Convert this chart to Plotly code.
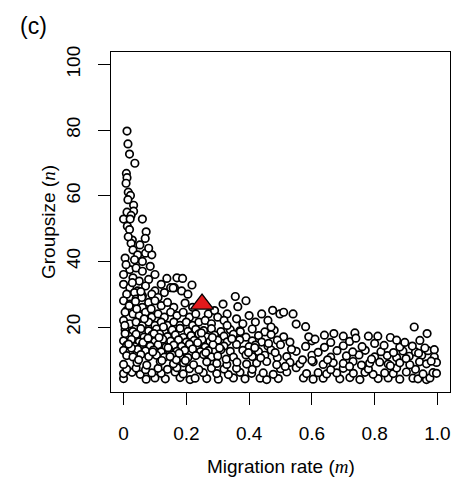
import plotly.graph_objects as go

# ---- data ----
tail_m = [0.011,0.014,0.019,0.036,0.009,0.011,0.008,0.015,0.022,0.014,0.032,0.032,0.011,0.024,0.000,0.021,0.060,0.012,0.019,0.072,0.069,0.028,0.024,0.052,0.030,0.070,0.045,0.090,0.005,0.035,0.060,0.015,0.080]
tail_n = [79.7,75.8,72.7,69.9,66.8,65.5,63.8,61.1,60.1,58.8,57.1,55.3,55.0,54.0,52.9,52.9,52.9,50.7,49.7,49.0,47.0,46.5,45.5,45.0,43.5,42.5,42.0,42.0,41.0,40.5,40.0,47.5,44.0]

upper_m = [0.000,0.020,0.040,0.060,0.085,0.100,0.030,0.050,0.080,0.138,0.170,0.188,0.000,0.020,0.045,0.070,0.100,0.120,0.150,0.162,0.218,0.010,0.035,0.060,0.090,0.110,0.130,0.185,0.205,0.158]
upper_n = [36.0,37.5,38.0,37.0,38.5,36.0,35.0,34.0,34.5,34.8,35.0,34.8,33.0,32.0,31.0,32.5,31.0,33.0,32.0,32.0,32.8,30.0,30.5,29.5,30.0,29.0,30.5,31.0,30.0,31.9]

mid_m = [0.000,0.020,0.040,0.060,0.080,0.100,0.120,0.140,0.160,0.196,0.220,0.317,0.356,0.390,0.364,
         0.010,0.030,0.050,0.070,0.090,0.110,0.130,0.150,0.170,0.190,0.210,0.230,0.270,0.290,0.330,0.400,0.440,0.475,0.498,0.540,0.510,
         0.000,0.020,0.040,0.060,0.080,0.100,0.120,0.140,0.160,0.180,0.200,0.220,0.240,0.260,0.280,0.300,0.320,0.360,0.380,0.420,0.460,0.550,0.580,0.926]
mid_n = [28.0,27.0,28.5,26.0,27.5,28.0,26.5,27.5,26.0,27.3,26.0,27.0,29.3,28.0,26.2,
         25.0,24.0,23.5,24.5,23.0,24.0,23.0,24.5,23.5,24.5,23.0,24.0,24.0,25.0,24.0,23.5,24.0,25.1,24.0,24.0,24.5,
         22.0,21.0,21.5,20.5,21.5,20.5,21.5,20.5,21.5,20.5,21.5,20.5,21.5,22.0,21.0,23.0,22.0,22.5,21.0,21.5,22.0,20.9,20.1,20.0]

row19_m = [0.005,0.03,0.055,0.08,0.105,0.13,0.155,0.18,0.205,0.23,0.255,0.28,0.31,0.34,0.37,0.41,0.45,0.48]
row19_n = [19.2,18.6,19.5,18.8,19.4,18.5,19.1,19.6,18.7,19.3,18.9,19.5,18.6,19.2,18.8,19.4,18.5,19.0]
row17_m = [0.015,0.04,0.065,0.09,0.115,0.14,0.165,0.19,0.215,0.24,0.265,0.29,0.32,0.35,0.39,0.43,0.47,0.51]
row17_n = [17.3,17.8,16.9,17.5,17.9,17.1,17.6,16.8,17.4,17.9,17.0,17.5,17.2,17.8,16.9,17.4,17.7,17.0]
row16_m = [0.0,0.025,0.05,0.075,0.1,0.125,0.15,0.175,0.2,0.225,0.25,0.275,0.3,0.33,0.37,0.41,0.44,0.49]
row16_n = [15.8,16.2,15.5,16.0,15.6,16.3,15.7,16.1,15.4,15.9,16.2,15.6,16.0,15.5,16.1,15.8,15.4,16.0]
row14_m = [0.01,0.035,0.06,0.085,0.11,0.135,0.16,0.185,0.21,0.235,0.26,0.285,0.32,0.36,0.40,0.42,0.46,0.50]
row14_n = [14.4,14.0,14.7,14.2,14.6,13.9,14.5,14.1,14.8,14.3,13.9,14.6,14.2,14.7,14.0,14.5,14.2,14.6]
row13_m = [0.0,0.02,0.045,0.07,0.095,0.12,0.145,0.17,0.195,0.22,0.245,0.27,0.31,0.34,0.38,0.43,0.47]
row13_n = [12.9,12.5,13.2,12.7,13.0,12.4,13.1,12.6,12.9,13.3,12.5,12.8,13.1,12.6,12.9,12.5,13.0]
row11_m = [0.01,0.03,0.055,0.08,0.105,0.13,0.155,0.18,0.205,0.23,0.255,0.28,0.30,0.35,0.39,0.41,0.45,0.49]
row11_n = [11.3,10.9,11.6,11.0,11.4,10.8,11.5,11.1,10.7,11.3,11.6,10.9,11.2,10.8,11.5,11.0,11.4,10.7]

right_m = [0.52,0.60,0.66,0.71,0.75,0.80,0.84,0.87,0.91,0.95,0.99,
           0.55,0.62,0.68,0.73,0.77,0.82,0.86,0.89,0.93,0.97,
           0.58,0.64,0.70,0.76,0.83,0.88,0.92,0.96,
           0.53,0.60,0.66,0.72,0.80,0.896,0.944,0.99,
           0.59,0.64,0.67,0.70,0.737,0.78,0.81,0.85,0.967,0.61,0.74,0.87]
right_n = [11.0,11.4,10.8,11.2,11.5,10.9,11.3,10.7,11.1,11.4,10.9,
           12.6,12.3,12.8,12.4,12.9,12.5,12.2,12.7,12.4,12.8,
           14.1,13.8,14.3,14.0,14.4,13.9,14.2,13.6,
           15.4,15.8,15.3,15.6,15.0,15.3,15.9,13.1,
           17.0,17.5,18.0,17.2,18.2,17.2,17.2,16.8,18.0,16.3,16.6,16.0]

bot4_m = [0.0,0.072,0.1,0.133,0.18,0.212,0.228,0.265,0.302,0.35,0.387,0.435,0.456,0.493,0.573,0.604,0.636,0.689,0.721,0.753,0.811,0.843,0.88,0.922,0.938,0.965,0.976]
bot4_n = [4.3,4.1,4.5,4.2,4.6,4.0,4.4,4.3,4.1,4.5,4.2,4.4,4.0,4.3,4.5,4.1,4.4,4.2,4.6,4.0,4.3,4.5,4.1,4.4,4.2,4.0,4.5]
bot6_m = [0.0,0.027,0.053,0.09,0.12,0.164,0.19,0.254,0.297,0.334,0.371,0.408,0.445,0.477,0.52,0.583,0.62,0.647,0.679,0.732,0.769,0.795,0.832,0.859,0.901,0.954,0.986,0.997]
bot6_n = [5.8,6.2,5.6,6.0,5.9,6.3,5.7,6.1,5.8,5.5,6.2,5.9,6.0,5.6,6.3,5.8,6.1,5.7,6.0,5.9,6.2,5.6,6.0,5.8,6.3,5.7,6.1,5.9]
bot7_m = [0.01,0.04,0.07,0.11,0.14,0.17,0.21,0.24,0.28,0.32,0.36,0.41,0.50,0.55,0.66,0.70,0.78,0.87,0.93]
bot7_n = [7.2,7.5,7.0,7.4,7.1,7.6,7.3,7.0,7.5,7.2,7.4,7.1,7.3,7.6,7.0,7.4,7.2,7.5,7.1]
bot8_m = [0.0,0.043,0.074,0.117,0.159,0.191,0.223,0.265,0.297,0.329,0.361,0.392,0.424,0.456,0.488,0.53,0.562,0.604,0.636,0.668,0.70,0.731,0.758,0.784,0.816,0.843,0.88,0.912,0.943,0.965,0.997]
bot8_n = [8.6,9.2,8.4,9.5,8.8,9.1,8.5,9.4,8.9,8.6,9.3,8.7,9.0,9.5,8.5,9.2,8.8,9.4,8.6,9.1,8.9,9.5,8.4,9.0,9.3,8.7,9.1,8.5,9.4,8.8,9.2]

extra_m = [0.005,0.018,0.028,0.042,0.058,0.066,0.088,0.097,0.113,0.127,0.142,0.168,0.177,0.197,0.236,0.248,0.262,0.283,0.306,0.327,0.345,0.372,0.398,0.418,0.437,0.462,0.483,0.515,0.535,0.570,
           0.005,0.025,0.048,0.062,0.078,0.093,0.122,0.148,0.008,0.038,0.055,0.004,0.016,0.330,0.470,0.600,0.650,0.720,0.790,0.850,0.900,0.940,0.980]
extra_n = [24.5,26.5,33.5,25.5,29.0,22.5,25.5,18.0,16.8,20.0,13.7,10.0,12.0,9.8,15.2,18.2,12.2,16.8,13.6,10.2,16.4,18.6,12.2,13.7,10.6,15.0,12.2,8.0,13.2,10.0,
           18.0,13.6,10.0,15.3,16.6,12.4,9.8,11.0,39.0,27.8,30.8,20.5,14.8,20.5,20.0,9.8,10.0,8.0,10.2,8.2,10.4,12.0,9.6]

focal_m = [0.25]
focal_n = [27]

all_m = (tail_m + upper_m + mid_m + row19_m + row17_m + row16_m + row14_m + row13_m + row11_m
         + right_m + bot4_m + bot6_m + bot7_m + bot8_m + extra_m)
all_n = (tail_n + upper_n + mid_n + row19_n + row17_n + row16_n + row14_n + row13_n + row11_n
         + right_n + bot4_n + bot6_n + bot7_n + bot8_n + extra_n)

FONT = "Liberation Sans, Arial, Helvetica, sans-serif"

fig = go.Figure()
fig.add_trace(go.Scatter(
    x=all_m, y=all_n, mode="markers",
    marker=dict(symbol="circle", size=7.5, color="white",
                line=dict(color="black", width=1.7)),
    hoverinfo="skip", showlegend=False))
fig.add_trace(go.Scatter(
    x=focal_m, y=focal_n, mode="markers",
    marker=dict(symbol="triangle-up", size=20, color="#E31A1C",
                line=dict(color="black", width=1.3)),
    hoverinfo="skip", showlegend=False))

# page body has an 8px margin, so the figure is 16px smaller and margins are offset
fig.update_layout(
    width=460, height=479,
    margin=dict(l=103, r=18, t=44, b=95, pad=0),
    paper_bgcolor="white", plot_bgcolor="white",
    font=dict(family=FONT, size=19, color="black"),
    showlegend=False,
    annotations=[
        dict(text="(c)", xref="paper", yref="paper", x=0, y=1,
             xanchor="center", yanchor="middle", xshift=-78, yshift=26,
             showarrow=False, font=dict(size=23, family=FONT)),
        dict(text="Migration rate (<i><span style=\"font-family:Liberation Serif\">m</span></i>)",
             xref="paper", yref="paper", x=0.5, y=0,
             xanchor="center", yanchor="middle", yshift=-74,
             showarrow=False, font=dict(size=19, family=FONT)),
        dict(text="Groupsize (<i><span style=\"font-family:Liberation Serif\">n</span></i>)",
             xref="paper", yref="paper", x=0, y=0.5, textangle=-90,
             xanchor="center", yanchor="middle", xshift=-63,
             showarrow=False, font=dict(size=19, family=FONT)),
    ],
)
fig.update_xaxes(
    range=[-0.04, 1.04], tickvals=[0, 0.2, 0.4, 0.6, 0.8, 1.0],
    ticktext=["0", "0.2", "0.4", "0.6", "0.8", "1.0"],
    showline=True, mirror=True, linecolor="black", linewidth=1.3,
    ticks="outside", ticklen=12, tickwidth=1.3, tickcolor="black",
    showgrid=False, zeroline=False, ticklabelstandoff=12,
)
fig.update_yaxes(
    range=[0.2, 103.8], tickvals=[20, 40, 60, 80, 100],
    showline=True, mirror=True, linecolor="black", linewidth=1.3,
    ticks="outside", ticklen=12, tickwidth=1.3, tickcolor="black",
    showgrid=False, zeroline=False, tickangle=-90, ticklabelstandoff=10,
)
fig.write_html("out.html")
